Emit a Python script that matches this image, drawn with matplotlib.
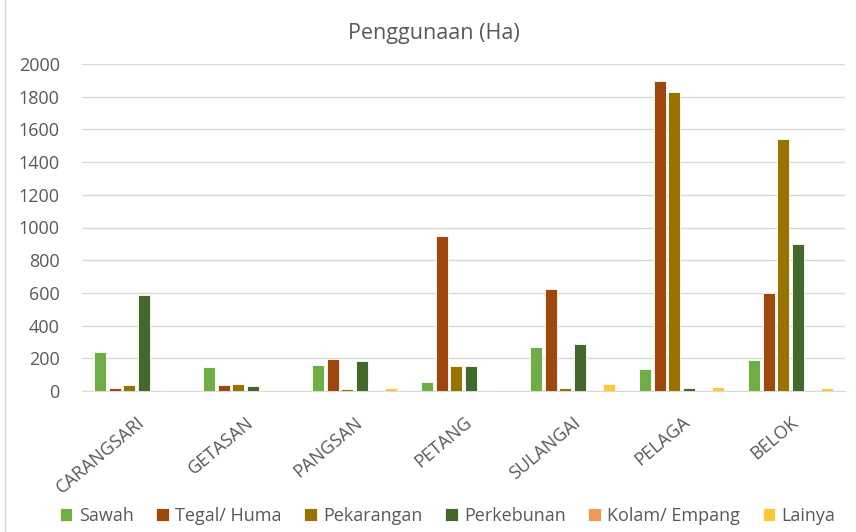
import matplotlib
matplotlib.use("Agg")
import matplotlib.pyplot as plt
import numpy as np
from matplotlib.patches import Rectangle

categories = ["CARANGSARI", "GETASAN", "PANGSAN", "PETANG", "SULANGAI", "PELAGA", "BELOK"]
series_names = ["Sawah", "Tegal/ Huma", "Pekarangan", "Perkebunan", "Kolam/ Empang", "Lainya"]
sawah = [237, 145, 157, 55, 271, 136, 192]
tegal = [16, 37, 196, 950, 622, 1898, 601]
pekarangan = [35, 43, 12, 151, 20, 1829, 1541]
perkebunan = [587, 29, 183, 155, 287, 16, 899]
kolam = [0, 0, 0, 4, 4, 5, 3]
lainya = [0, 0, 20, 3, 41, 27, 18]
yticks = [0, 200, 400, 600, 800, 1000, 1200, 1400, 1600, 1800, 2000]

colors = ["#70AD47", "#9E480E", "#997300", "#43682B", "#F1975A", "#FFC832"]
series = [sawah, tegal, pekarangan, perkebunan, kolam, lainya]

plt.rcParams['font.family'] = ['Open Sans', 'DejaVu Sans']
fig = plt.figure(figsize=(8.56, 5.32), dpi=100)
ax = fig.add_axes([82/856, 1-391/532, (845-82)/856, (391-64)/532])

x = np.arange(len(categories))
pitch = 0.133
width = 0.11
for i, (vals, c, name) in enumerate(zip(series, colors, series_names)):
    ax.bar(x + (i - 2.5) * pitch, vals, width=width, color=c, label=name,
           edgecolor="#FFFFFF", linewidth=0.6, zorder=3)

ax.set_xlim(-0.5, len(categories) - 0.5)
ax.set_ylim(0, 2000)
ax.set_yticks(yticks)
ax.set_yticklabels([str(v) for v in yticks], fontsize=13, color="#595959")
ax.set_xticks(x)
ax.set_xticklabels(categories, rotation=40, ha="right", rotation_mode="anchor",
                   fontsize=13, color="#595959")
ax.tick_params(axis="y", length=0, pad=16)
ax.tick_params(axis="x", length=0, pad=16)
ax.grid(axis="y", color="#D9D9D9", linewidth=1, zorder=0)
for s in ["top", "right", "left"]:
    ax.spines[s].set_visible(False)
ax.spines["bottom"].set_color("#D9D9D9")

fig.text(0.507, 1 - 33/532, "Penggunaan (Ha)", ha="center", va="center",
         fontsize=15.5, color="#595959")

leg = fig.legend(loc="center", bbox_to_anchor=(0.523, 1 - 516/532), ncol=6,
                 frameon=False, handlelength=0.7, handleheight=0.7,
                 handletextpad=0.35, columnspacing=1.25, fontsize=13)
for t in leg.get_texts():
    t.set_color("#595959")

fig.patches.append(Rectangle((5/856, -0.01), 1, 1.02, transform=fig.transFigure,
                             fill=False, edgecolor="#D9D9D9", linewidth=1))

fig.savefig("out.png", dpi=100)
